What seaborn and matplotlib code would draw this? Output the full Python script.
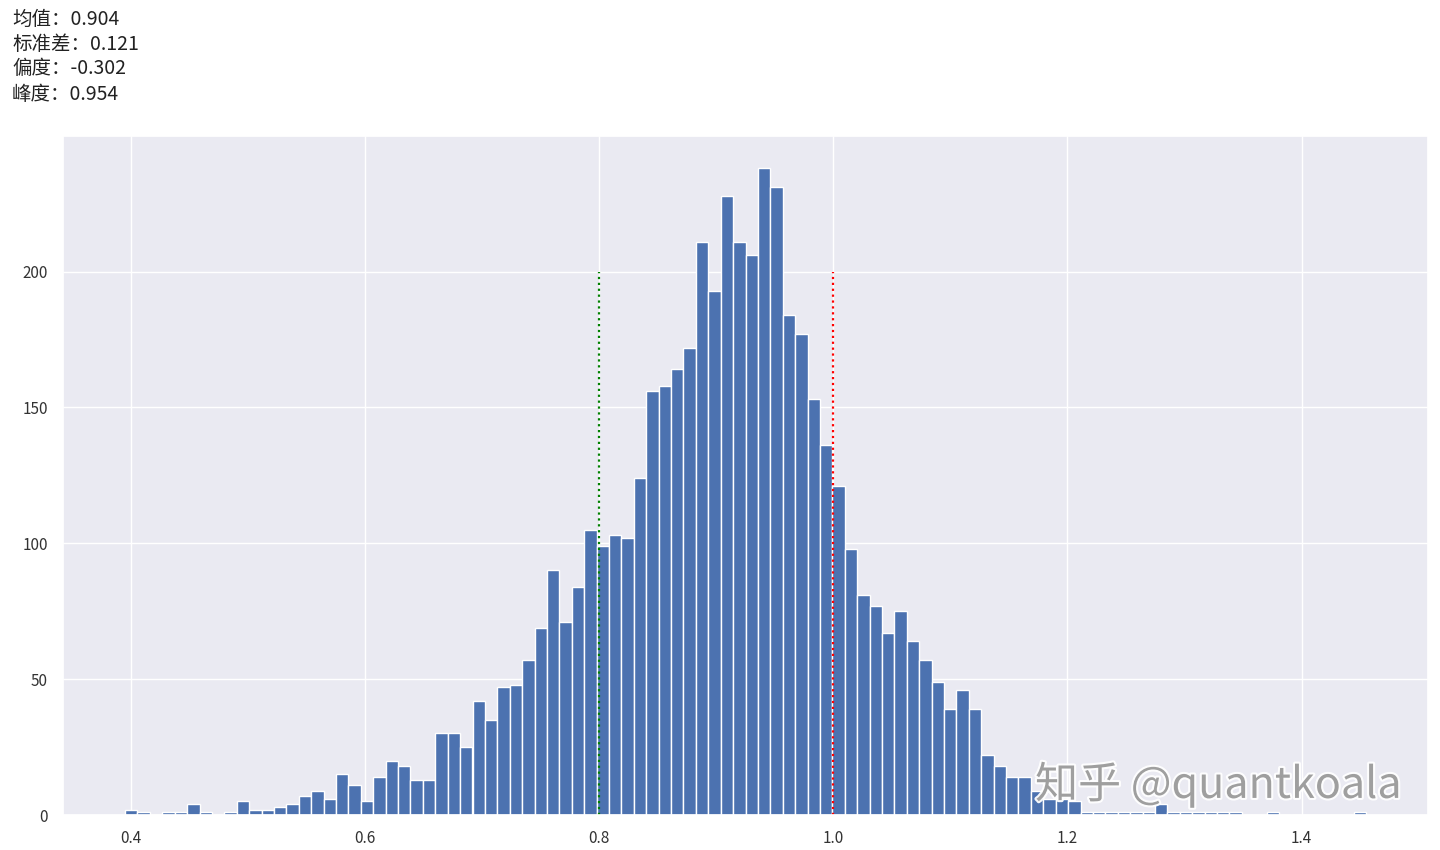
import numpy as np
import pandas as pd
import matplotlib
matplotlib.use("Agg")
import matplotlib.pyplot as plt
import matplotlib.patheffects as pe
import seaborn as sns

# ---- data ----
bin_lo, bin_hi, n_bins = 0.395, 1.455, 100
counts = [2, 1, 0, 1, 1, 4, 1, 0, 1, 5,
          2, 2, 3, 4, 7, 9, 6, 15, 11, 5,
          14, 20, 18, 13, 13, 30, 30, 25, 42, 35,
          47, 48, 57, 69, 90, 71, 84, 105, 99, 103,
          102, 124, 156, 158, 164, 172, 211, 193, 228, 211,
          206, 238, 231, 184, 177, 153, 136, 121, 98, 81,
          77, 67, 75, 64, 57, 49, 39, 46, 39, 22,
          18, 14, 14, 9, 6, 6, 5, 1, 1, 1,
          1, 1, 1, 4, 1, 1, 1, 1, 1, 1,
          0, 0, 1, 0, 0, 0, 0, 0, 0, 1]
stat_labels = ["均值：0.904", "标准差：0.121", "偏度：-0.302", "峰度：0.954"]
xticks = [0.4, 0.6, 0.8, 1.0, 1.2, 1.4]
yticks = [0, 50, 100, 150, 200]
low_line, high_line, line_top = 0.8, 1.0, 200
watermark = "知乎 @quantkoala"

# ---- build ----
edges = np.linspace(bin_lo, bin_hi, n_bins + 1)
centers = (edges[:-1] + edges[1:]) / 2
df = pd.DataFrame({"x": centers, "w": counts})

sns.set_theme(style="darkgrid")
plt.rcParams["font.family"] = ["Noto Sans CJK SC", "DejaVu Sans"]
plt.rcParams["axes.unicode_minus"] = False

fig = plt.figure(figsize=(14.4, 8.5), dpi=100)
ax = fig.add_axes([63 / 1440, 1 - 815 / 850, (1428 - 63) / 1440, (815 - 136) / 850])

sns.histplot(data=df, x="x", weights="w", bins=n_bins, binrange=(bin_lo, bin_hi),
             ax=ax, color="#4C72B0", alpha=1.0, edgecolor="white", linewidth=1.0)

ax.vlines(low_line, 0, line_top, colors="green", linestyles=":", linewidth=1.6)
ax.vlines(high_line, 0, line_top, colors="red", linestyles=":", linewidth=1.6)

ax.set_xticks(xticks)
ax.set_xticklabels([f"{t:.1f}" for t in xticks])
ax.set_yticks(yticks)
ax.set_xlabel("")
ax.set_ylabel("")
ax.tick_params(axis="both", labelsize=11, colors="#333333", pad=4.8)

for i, s in enumerate(stat_labels):
    fig.text(12 / 1440, 1 - (19 + 25 * i) / 850, s, fontsize=14,
             ha="left", va="center", color="#222222")

fig.text(1035 / 1440, 1 - 785 / 850, watermark, fontsize=31, color="#9a9a9a",
         ha="left", va="center", alpha=0.95,
         path_effects=[pe.withStroke(linewidth=3, foreground="white")])

fig.savefig("out.png", dpi=100)
